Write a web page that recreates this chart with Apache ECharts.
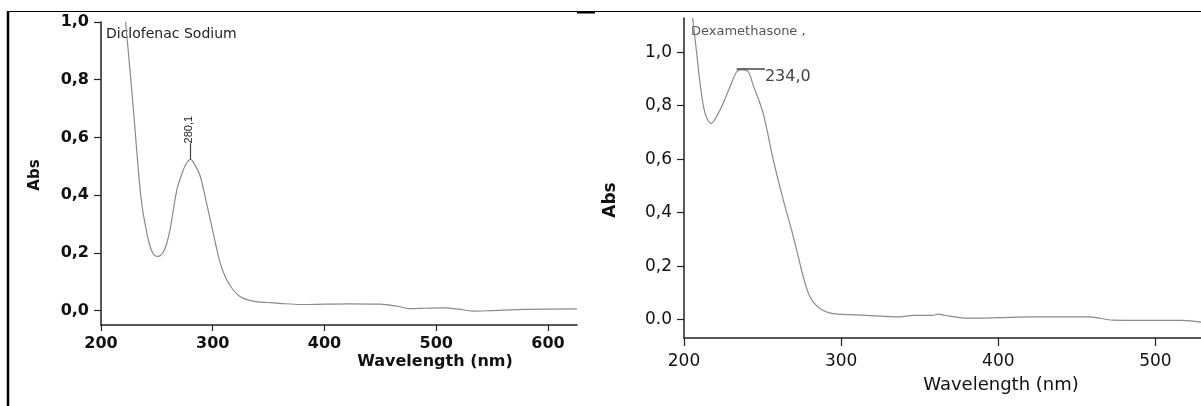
<!DOCTYPE html>
<html>
<head>
<meta charset="utf-8">
<script src="https://cdn.jsdelivr.net/npm/echarts@6/dist/echarts.min.js"></script>
<style>
  html, body { margin: 0; padding: 0; background: #fff; }
  #chart { width: 1201px; height: 406px; }
</style>
</head>
<body>
<div id="chart"></div>
<script>
// Diclofenac sodium spectrum (nm, Abs)
const dicloWl = [222, 226, 230, 234, 237, 240, 243, 246.5, 250, 253, 256, 259, 262, 265, 268, 272, 276, 280.1, 284, 288.6, 293, 300, 306.4, 312, 318, 324, 330.6, 340, 348.5, 360, 378, 400, 422, 450, 465, 476, 490, 506, 520, 533, 550, 580, 626]
const dicloAbs = [1.0, 0.83, 0.65, 0.46, 0.355, 0.29, 0.235, 0.198, 0.188, 0.19, 0.205, 0.235, 0.285, 0.355, 0.42, 0.47, 0.507, 0.524, 0.505, 0.468, 0.398, 0.276, 0.168, 0.11, 0.073, 0.05, 0.038, 0.03, 0.028, 0.025, 0.021, 0.022, 0.023, 0.022, 0.015, 0.007, 0.008, 0.009, 0.005, -0.002, 0.0, 0.004, 0.006]

// Dexamethasone spectrum (nm, Abs)
const dexaWl = [205.5, 208, 210.2, 213.4, 217.2, 222.9, 229.3, 233.5, 237, 240.9, 244, 250.4, 256.8, 263.2, 268.5, 271.7, 275.9, 280.2, 286.5, 295, 316, 337, 346, 358, 362, 366, 380, 400, 422, 440, 458, 473, 500, 517.5, 529]
const dexaAbs = [1.128, 1.0, 0.884, 0.771, 0.733, 0.784, 0.871, 0.927, 0.935, 0.927, 0.877, 0.771, 0.597, 0.447, 0.334, 0.26, 0.16, 0.085, 0.041, 0.022, 0.016, 0.010, 0.016, 0.016, 0.02, 0.016, 0.005, 0.007, 0.01, 0.01, 0.01, -0.002, -0.003, -0.003, -0.01]

const yTicks = [0, 0.2, 0.4, 0.6, 0.8, 1.0]
const dicloXTicks = [200, 300, 400, 500, 600]
const dexaXTicks = [200, 300, 400, 500]

const dicloPeak = { wl: 280.1, abs: 0.524, label: '280,1' }
const dexaPeak = { wl: 234.0, abs: 0.935, label: '234,0' }

const zip = (xs, ys) => xs.map((x, i) => [x, ys[i]])
const comma = v => v.toFixed(1).replace('.', ',')

const AXIS_COLOR = '#222'
const CURVE_COLOR = '#8a8a8a'

const chart = echarts.init(document.getElementById('chart'))

const axisBase = (ticks, font, weight, fmt, tickLen, margin) => ({
  axisLine: { show: true, onZero: false, lineStyle: { color: AXIS_COLOR, width: 1.5 } },
  axisTick: { show: true, length: tickLen, customValues: ticks, lineStyle: { color: AXIS_COLOR, width: 1.2 } },
  axisLabel: { customValues: ticks, formatter: fmt, color: '#111', fontFamily: 'DejaVu Sans', fontSize: font, fontWeight: weight, margin },
  splitLine: { show: false },
})

chart.setOption({
  backgroundColor: '#fff',
  animation: false,
  grid: [
    { left: 101, right: 624, top: 22, bottom: 81 },
    { left: 684, right: 0, top: 18, bottom: 68 },
  ],
  xAxis: [
    { gridIndex: 0, type: 'value', min: 200, max: 626, ...axisBase(dicloXTicks, 16, 'bold', v => String(v), 6, 11) },
    { gridIndex: 1, type: 'value', min: 200, max: 529, ...axisBase(dexaXTicks, 17, 'normal', v => String(v), 8, 15) },
  ],
  yAxis: [
    { gridIndex: 0, type: 'value', min: -0.05, max: 1.0, ...axisBase(yTicks, 16, 'bold', comma, 7, 12) },
    { gridIndex: 1, type: 'value', min: -0.069, max: 1.128,
      ...axisBase(yTicks, 17, 'normal', v => v === 0 ? '0.0' : comma(v), 7, 12) },
  ],
  series: [
    {
      type: 'line', xAxisIndex: 0, yAxisIndex: 0, data: zip(dicloWl, dicloAbs),
      showSymbol: false, smooth: 0.3, lineStyle: { color: CURVE_COLOR, width: 1.2 },
      markLine: {
        silent: true, symbol: 'none', label: { show: false },
        lineStyle: { color: '#444', width: 1.2, type: 'solid' },
        data: [[{ coord: [dicloPeak.wl, dicloPeak.abs] }, { coord: [dicloPeak.wl, 0.58] }]],
      },
      markPoint: {
        symbol: 'circle', symbolSize: 0, silent: true,
        label: { show: true, position: 'inside', rotate: 90, formatter: dicloPeak.label, color: '#222', fontFamily: 'Liberation Sans', fontSize: 11 },
        data: [{ coord: [dicloPeak.wl - 1, 0.627] }],
      },
    },
    {
      type: 'line', xAxisIndex: 1, yAxisIndex: 1, data: zip(dexaWl, dexaAbs),
      showSymbol: false, smooth: 0.3, lineStyle: { color: CURVE_COLOR, width: 1.2 },
      markLine: {
        silent: true, symbol: 'none', label: { show: false },
        lineStyle: { color: '#444', width: 1.5, type: 'solid' },
        data: [[{ coord: [233.5, 0.937] }, { coord: [251.5, 0.937] }]],
      },
      markPoint: {
        symbol: 'circle', symbolSize: 0, silent: true,
        label: { show: true, position: 'right', distance: 0, offset: [0, 8], formatter: dexaPeak.label, color: '#444', fontFamily: 'DejaVu Sans', fontSize: 16 },
        data: [{ coord: [251.5, 0.937] }],
      },
    },
  ],
  graphic: [
    // frame
    { type: 'line', shape: { x1: 8, y1: 11.5, x2: 1201, y2: 11.5 }, style: { stroke: '#000', lineWidth: 1.2 } },
    { type: 'line', shape: { x1: 8, y1: 11, x2: 8, y2: 406 }, style: { stroke: '#000', lineWidth: 2.5 } },
    { type: 'line', shape: { x1: 577, y1: 12.5, x2: 595, y2: 12.5 }, style: { stroke: '#000', lineWidth: 2 } },
    // sample names
    { type: 'text', x: 106, y: 34, style: { text: 'Diclofenac Sodium', font: '14px "DejaVu Sans"', fill: '#222', verticalAlign: 'middle' } },
    { type: 'text', x: 691, y: 32, style: { text: 'Dexamethasone ,', font: '13px "DejaVu Sans"', fill: '#555', verticalAlign: 'middle' } },
    // axis titles
    { type: 'text', x: 435, y: 362, style: { text: 'Wavelength (nm)', font: 'bold 16px "DejaVu Sans"', fill: '#111', align: 'center', verticalAlign: 'middle' } },
    { type: 'text', x: 35, y: 175, rotation: Math.PI / 2, style: { text: 'Abs', font: 'bold 15px "DejaVu Sans"', fill: '#111', align: 'center', verticalAlign: 'middle' } },
    { type: 'text', x: 1001, y: 385, style: { text: 'Wavelength (nm)', font: '18px "DejaVu Sans"', fill: '#111', align: 'center', verticalAlign: 'middle' } },
    { type: 'text', x: 611, y: 200, rotation: Math.PI / 2, style: { text: 'Abs', font: 'bold 17px "DejaVu Sans"', fill: '#111', align: 'center', verticalAlign: 'middle' } },
  ],
})
</script>
</body>
</html>
